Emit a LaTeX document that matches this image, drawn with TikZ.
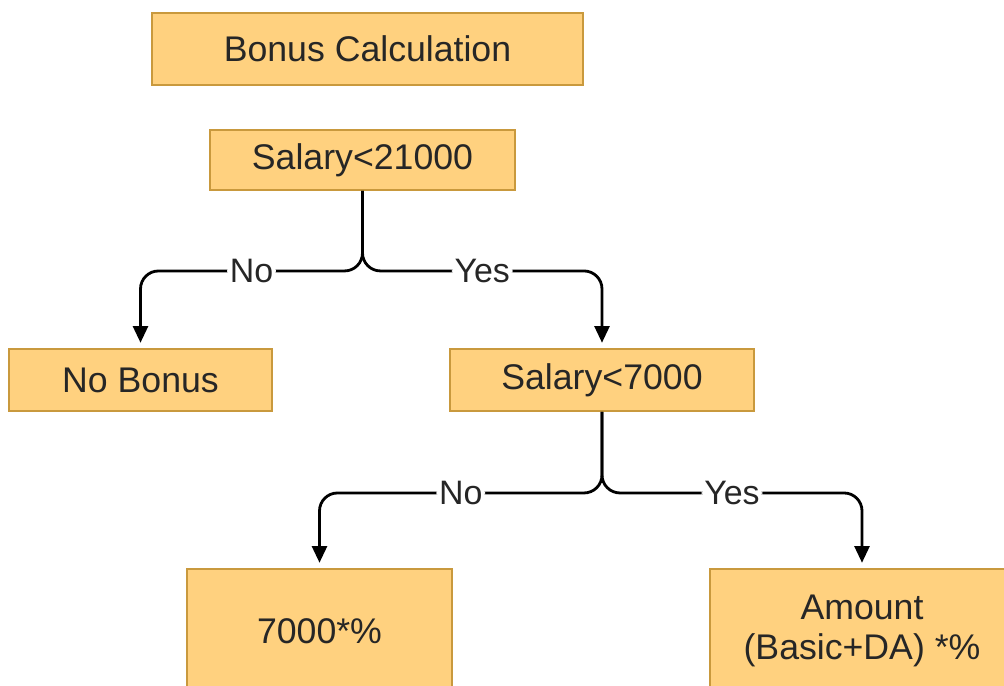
\documentclass[tikz,border=0pt]{standalone}
\usepackage{fontspec}
\setmainfont{Liberation Sans}
\usetikzlibrary{arrows.meta}

\definecolor{boxfill}{HTML}{FFD17F}
\definecolor{boxline}{HTML}{C9993D}

\begin{document}
\begin{tikzpicture}[x=0.02cm, y=-0.02cm,
	box/.style = {draw=boxline, fill=boxfill, line width=1.1pt, text=black!85,
		font=\fontsize{20.3}{23}\selectfont, align=center, inner sep=0pt},
	flow/.style = {line width=1.6pt, rounded corners=0.36cm,
		-{Triangle[length=9.5pt, width=8.5pt]}, shorten >=3pt},
	lbl/.style = {fill=white, inner sep=1.5pt, pos=0.25, text=black!85,
		font=\fontsize{19.3}{22}\selectfont}]

	\useasboundingbox (0,0) rectangle (1004,686);
	\clip (0,0) rectangle (1004,686);

	\node[box, minimum width=8.62cm, minimum height=1.44cm] (bonus) at (367.5,49) {Bonus Calculation};
	\node[box, minimum width=6.10cm, minimum height=1.20cm] (sal21) at (362.5,160) {Salary<21000};
	\node[box, minimum width=5.26cm, minimum height=1.24cm] (nobonus) at (140.5,380) {No Bonus};
	\node[box, minimum width=6.08cm, minimum height=1.24cm] (sal7) at (602,380) {Salary<7000};
	\node[box, minimum width=5.30cm, minimum height=2.48cm] (pct) at (319.5,631) {7000*\%};
	\node[box, minimum width=6.08cm, minimum height=2.48cm] (amount) at (862,631) {Amount\\(Basic+DA) *\%};

	% first decision
	\draw[flow] (sal21.south) -- ++(0,80) -| (nobonus.north) node[lbl] {No};
	\draw[flow] (sal21.south) -- ++(0,80) -| (sal7.north) node[lbl] {Yes};

	% second decision
	\draw[flow] (sal7.south) -- ++(0,81) -| (pct.north) node[lbl] {No};
	\draw[flow] (sal7.south) -- ++(0,81) -| (amount.north) node[lbl] {Yes};
\end{tikzpicture}
\end{document}
